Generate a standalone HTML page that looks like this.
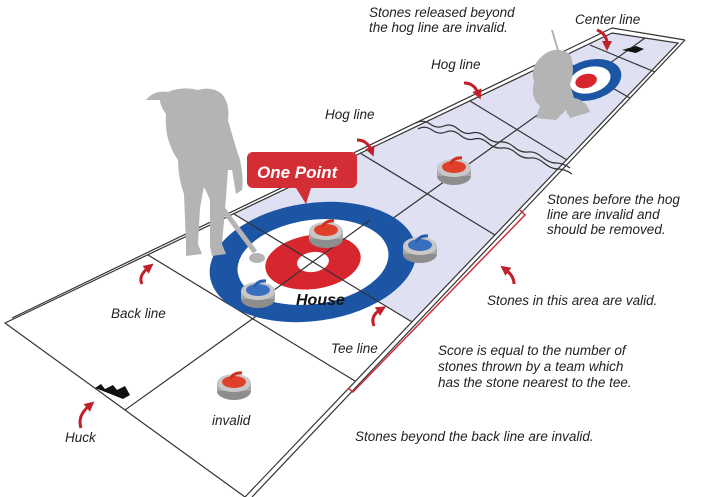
<!DOCTYPE html>
<html><head><meta charset="utf-8"><style>
html,body{margin:0;padding:0;background:#fff;}
svg{display:block}
text{font-family:"Liberation Sans",sans-serif;font-style:italic;fill:#222;}
</style></head><body>
<svg width="720" height="497" viewBox="0 0 720 497" xmlns="http://www.w3.org/2000/svg">
<defs>
<marker id="ah" markerUnits="userSpaceOnUse" markerWidth="10" markerHeight="10" refX="3" refY="5" orient="auto"><path d="M0,0 L10,5 L0,10 z" fill="#c0202a"/></marker>
<g id="stoneR"><ellipse cx="0" cy="6" rx="17" ry="9" fill="#8d8d8d"/><rect x="-17" y="-2" width="34" height="8" fill="#a8a8a8"/><ellipse cx="0" cy="-2" rx="17" ry="9" fill="#c8c8c8"/><ellipse cx="0" cy="-3" rx="12" ry="6" fill="#e0402a"/><path d="M-4,-6 q4,-7 12,-6" stroke="#d03020" stroke-width="3" fill="none"/></g>
<g id="stoneB"><ellipse cx="0" cy="6" rx="17" ry="9" fill="#8d8d8d"/><rect x="-17" y="-2" width="34" height="8" fill="#a8a8a8"/><ellipse cx="0" cy="-2" rx="17" ry="9" fill="#c8c8c8"/><ellipse cx="0" cy="-3" rx="12" ry="6" fill="#3a6fc0"/><path d="M-4,-6 q4,-7 12,-6" stroke="#2a5fb0" stroke-width="3" fill="none"/></g>
</defs>
<polygon points="234,214 612,33 678,43 412,322" fill="#dfe1f2"/>
<g stroke="#333" stroke-width="1.2" fill="none">
<polygon points="5,323 612,33 678,43 245,497"/>
<line x1="12" y1="318" x2="612" y2="28"/>
<line x1="252" y1="497" x2="685" y2="40"/>
<line x1="612" y1="28" x2="685" y2="40"/>
<line x1="125" y1="410" x2="645" y2="38"/>
<line x1="148" y1="255" x2="355" y2="381"/>
<line x1="360" y1="153" x2="495" y2="235"/>
<line x1="470" y1="101" x2="567" y2="160"/>
<line x1="560" y1="58" x2="630" y2="98"/>
<line x1="590" y1="45" x2="655" y2="72"/>
</g>
<!-- wavy breaks -->
<g stroke="#333" stroke-width="1.2" fill="none">
<path d="M416,123 q7,-4 14,1 t14,2 t14,3 t14,4 t14,4 t14,5 t14,5 t14,5 t14,5 t14,6 t14,5"/>
<path d="M418,129 q7,-4 14,1 t14,2 t14,3 t14,4 t14,4 t14,5 t14,5 t14,5 t14,5 t14,6 t14,5"/>
</g>
<g transform="rotate(-8 313 262)">
<ellipse cx="313" cy="262" rx="104" ry="59" fill="#1d55a5"/>
<ellipse cx="313" cy="262" rx="76" ry="42" fill="#fff"/>
<ellipse cx="313" cy="262" rx="48" ry="27" fill="#d8262e"/>
<ellipse cx="313" cy="262" rx="16" ry="10" fill="#fff"/>
</g>
<line x1="234" y1="214" x2="412" y2="322" stroke="#333" stroke-width="1.2"/>
<line x1="255" y1="304" x2="370" y2="220" stroke="#333" stroke-width="1.2"/>
<ellipse cx="590" cy="80" rx="32" ry="20" fill="#1d55a5" transform="rotate(-15 590 80)"/>
<ellipse cx="590" cy="80" rx="21" ry="13" fill="#fff" transform="rotate(-15 590 80)"/>
<ellipse cx="586" cy="80" rx="11" ry="7" fill="#d8262e" transform="rotate(-15 590 80)"/>
<!-- huck -->
<path d="M95,388 l6,-4 l4,5 l8,-4 l4,5 l8,-4 l5,9 l-7,4 l-10,-4 z" fill="#111"/>
<path d="M622,50 l14,-4 l8,3 l-8,4 z" fill="#111"/>
<!-- silhouettes -->
<g fill="#b4b4b4">
<path d="M146,100 q8,-10 22,-8 q14,-6 30,-2 q14,-4 24,4 q8,10 6,26 q6,22 12,40 q4,20 2,30 l-6,4 l-4,-24 l-4,0 l-2,28 l-4,46 l4,10 l-14,2 l-2,-10 l0,-46 l-6,-14 l-4,22 l-2,36 l4,10 l-16,2 l0,-12 l-2,-50 q-6,-16 -6,-34 q-14,-20 -12,-46 q-6,-8 -6,-14 z"/>
<path d="M540,58 q14,-14 30,-4 q6,16 0,30 l4,14 q12,2 16,14 l-20,6 l-4,-8 l-10,10 l-20,-2 l4,-12 q-10,-8 -6,-24 q-4,-14 6,-24 z"/>
</g>
<line x1="205" y1="185" x2="255" y2="252" stroke="#b4b4b4" stroke-width="5"/>
<ellipse cx="257" cy="258" rx="8" ry="5" fill="#b4b4b4"/>
<line x1="552" y1="30" x2="575" y2="108" stroke="#b4b4b4" stroke-width="2"/>
<rect x="567" y="108" width="18" height="6" fill="#b4b4b4"/>
<use href="#stoneR" x="326" y="233"/>
<use href="#stoneB" x="420" y="248"/>
<use href="#stoneB" x="258" y="293"/>
<use href="#stoneR" x="454" y="170"/>
<use href="#stoneR" x="234" y="385"/>
<path d="M253,152 h98 a6,6 0 0 1 6,6 v24 a6,6 0 0 1 -6,6 h-40 l-5,16 l-10,-16 h-43 a6,6 0 0 1 -6,-6 v-24 a6,6 0 0 1 6,-6 z" fill="#d32e35"/>
<text x="257" y="178" font-size="17" font-weight="bold" style="fill:#fff">One Point</text>
<path d="M520,210 l5,5 L353,392 l-5,-4" stroke="#d0303a" stroke-width="1.5" fill="none"/>
<g stroke="#c0202a" stroke-width="3" fill="none" marker-end="url(#ah)">
<path d="M142,284 q-4,-8 6,-16"/>
<path d="M81,428 q-4,-12 8,-22"/>
<path d="M374,326 q-4,-10 6,-16"/>
<path d="M514,284 q0,-8 -8,-14"/>
<path d="M357,140 q10,0 14,10"/>
<path d="M464,83 q10,0 14,10"/>
<path d="M597,30 q10,4 10,14"/>
</g>
<g font-size="13.5">
<text x="369" y="17">Stones released beyond</text>
<text x="369" y="32">the hog line are invalid.</text>
<text x="575" y="24">Center line</text>
<text x="431" y="69">Hog line</text>
<text x="325" y="119">Hog line</text>
<text x="547" y="204">Stones before the hog</text>
<text x="547" y="219">line are invalid and</text>
<text x="547" y="234">should be removed.</text>
<text x="487" y="305">Stones in this area are valid.</text>
<text x="438" y="355">Score is equal to the number of</text>
<text x="438" y="371">stones thrown by a team which</text>
<text x="438" y="387">has the stone nearest to the tee.</text>
<text x="355" y="441">Stones beyond the back line are invalid.</text>
<text x="111" y="318">Back line</text>
<text x="331" y="353">Tee line</text>
<text x="65" y="442">Huck</text>
<text x="212" y="425">invalid</text>
</g>
<text x="296" y="305" font-size="16" font-weight="bold" style="fill:#111">House</text>
</svg>
</body></html>
